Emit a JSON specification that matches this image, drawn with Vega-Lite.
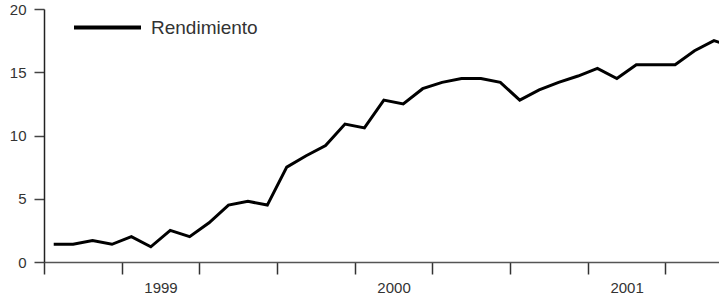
{
  "$schema": "https://vega.github.io/schema/vega-lite/v6.json",
  "width": 675,
  "height": 253,
  "autosize": "none",
  "padding": {"left": 44, "top": 9, "right": 0, "bottom": 37},
  "background": "white",
  "config": {
    "view": {"stroke": null},
    "font": "Liberation Sans",
    "axis": {"grid": false}
  },
  "data": {
    "values": [
      {"m": 0.5, "v": 1.4}, {"m": 1.5, "v": 1.4}, {"m": 2.5, "v": 1.7}, {"m": 3.5, "v": 1.4},
      {"m": 4.5, "v": 2.0}, {"m": 5.5, "v": 1.2}, {"m": 6.5, "v": 2.5}, {"m": 7.5, "v": 2.0},
      {"m": 8.5, "v": 3.1}, {"m": 9.5, "v": 4.5}, {"m": 10.5, "v": 4.8}, {"m": 11.5, "v": 4.5},
      {"m": 12.5, "v": 7.5}, {"m": 13.5, "v": 8.4}, {"m": 14.5, "v": 9.2}, {"m": 15.5, "v": 10.9},
      {"m": 16.5, "v": 10.6}, {"m": 17.5, "v": 12.8}, {"m": 18.5, "v": 12.5}, {"m": 19.5, "v": 13.7},
      {"m": 20.5, "v": 14.2}, {"m": 21.5, "v": 14.5}, {"m": 22.5, "v": 14.5}, {"m": 23.5, "v": 14.2},
      {"m": 24.5, "v": 12.8}, {"m": 25.5, "v": 13.6}, {"m": 26.5, "v": 14.2}, {"m": 27.5, "v": 14.7},
      {"m": 28.5, "v": 15.3}, {"m": 29.5, "v": 14.5}, {"m": 30.5, "v": 15.6}, {"m": 31.5, "v": 15.6},
      {"m": 32.5, "v": 15.6}, {"m": 33.5, "v": 16.7}, {"m": 34.5, "v": 17.5}, {"m": 35.5, "v": 17.0}
    ]
  },
  "mark": {"type": "line", "strokeWidth": 3, "clip": true, "strokeJoin": "miter"},
  "encoding": {
    "x": {
      "field": "m",
      "type": "quantitative",
      "scale": {"domain": [0, 34.76], "nice": false, "zero": false},
      "axis": {
        "title": null,
        "values": [0, 4, 6, 8, 12, 16, 18, 20, 24, 28, 30, 32],
        "labelExpr": "datum.value == 6 ? '1999' : datum.value == 18 ? '2000' : datum.value == 30 ? '2001' : ''",
        "labelFont": "Liberation Sans",
        "labelFontSize": 15,
        "labelColor": "#333",
        "tickSize": 12,
        "labelPadding": 6,
        "domainColor": "#555",
        "domainWidth": 1.5,
        "tickColor": "#333",
        "tickWidth": 1.5,
        "tickOpacity": {"condition": {"test": "datum.value % 12 == 6", "value": 0}, "value": 1},
        "labelOverlap": false,
        "labelFlush": false,
        "encode": {"ticks": {"update": {"y2": {"signal": "datum.value % 12 == 0 ? 12 : 8"}}}}
      }
    },
    "y": {
      "field": "v",
      "type": "quantitative",
      "scale": {"domain": [0, 20], "nice": false},
      "axis": {
        "title": null,
        "values": [0, 5, 10, 15, 20],
        "labelFont": "Liberation Sans",
        "labelFontSize": 15,
        "labelColor": "#333",
        "tickSize": 10,
        "labelPadding": 8,
        "domainColor": "#222",
        "domainWidth": 1.5,
        "tickColor": "#444",
        "tickWidth": 1.5
      }
    },
    "color": {
      "datum": "Rendimiento",
      "scale": {"range": ["#000000"]},
      "legend": {
        "title": null,
        "orient": "none",
        "legendX": 28,
        "legendY": -17,
        "padding": 0,
        "symbolType": "stroke",
        "symbolSize": 4489,
        "symbolStrokeWidth": 4,
        "labelFontSize": 19,
        "labelColor": "#333",
        "labelOffset": 8,
        "labelFont": "Liberation Sans"
      }
    }
  }
}
